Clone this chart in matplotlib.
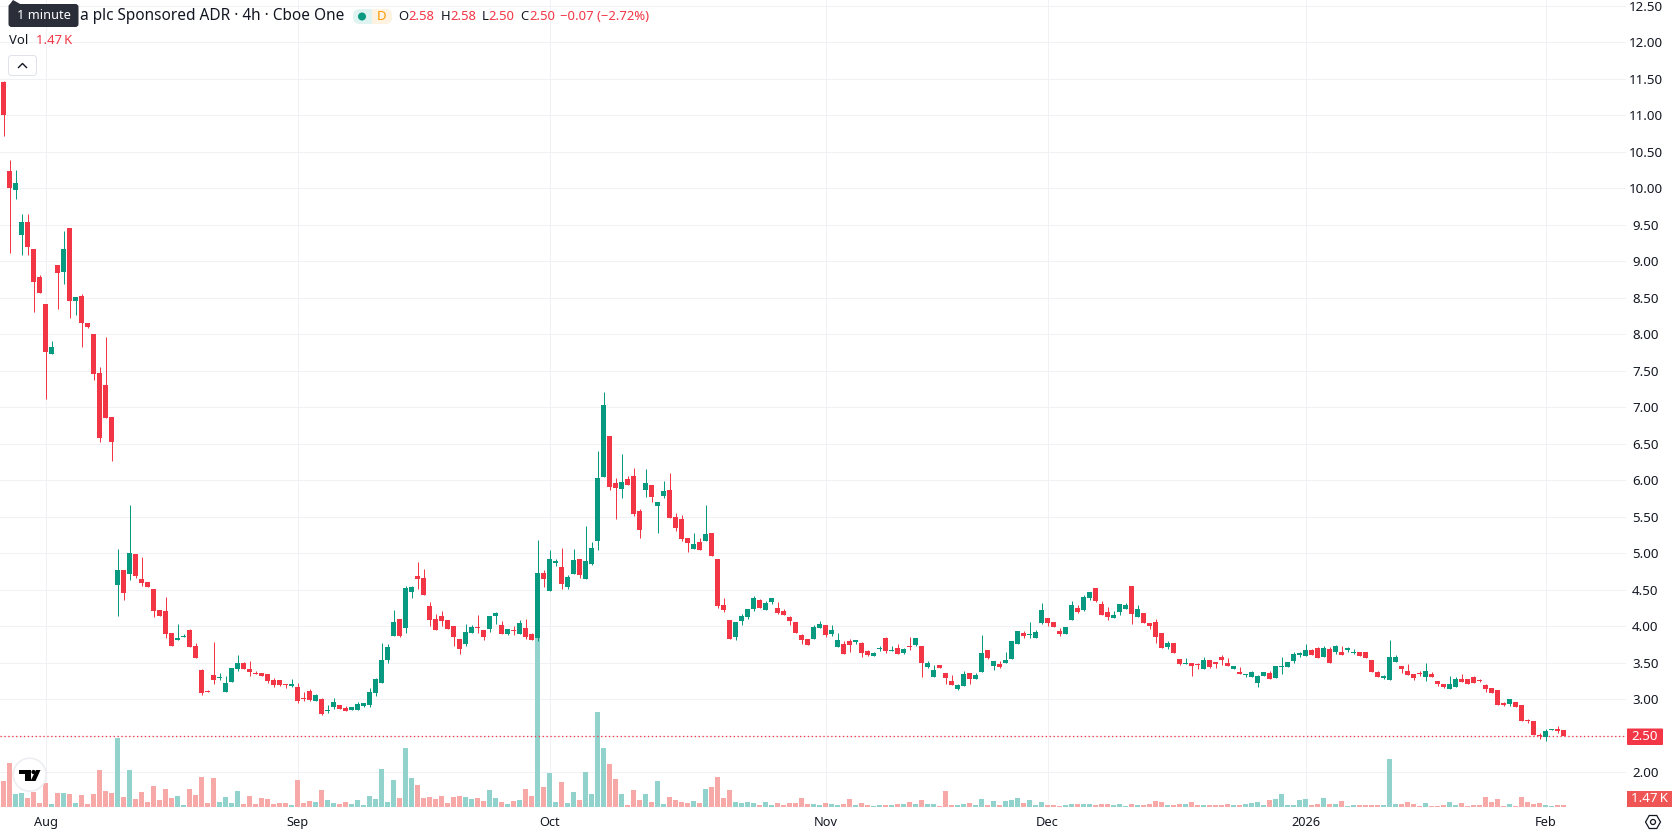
import numpy as np
import matplotlib
matplotlib.use("Agg")
import matplotlib.pyplot as plt
from matplotlib.patches import Circle, FancyBboxPatch, Polygon, Rectangle, RegularPolygon

plt.rcParams['font.family'] = ['Noto Sans', 'DejaVu Sans']

# 4h candles, oldest first
opens = [
    11.46, 10.24, 9.97, 9.36, 9.54, 9.17, 8.78, 8.41, 7.73, 8.95,
    8.86, 9.46, 8.46, 8.52, 8.15, 8.00, 7.47, 7.31, 6.87, 4.57,
    4.77, 4.72, 4.99, 4.65, 4.61, 4.51, 4.22, 4.21, 3.91, 3.81,
    3.86, 3.95, 3.73, 3.40, 3.11, 3.33, 3.29, 3.10, 3.24, 3.42,
    3.50, 3.42, 3.36, 3.36, 3.35, 3.26, 3.26, 3.21, 3.18, 3.17,
    3.01, 3.11, 2.98, 3.01, 2.84, 2.90, 2.92, 2.88, 2.85, 2.85,
    2.91, 2.92, 3.09, 3.22, 3.54, 3.87, 4.10, 3.98, 4.47, 4.69,
    4.66, 4.28, 4.10, 4.14, 4.09, 4.00, 3.83, 3.76, 3.91, 3.99,
    3.95, 3.96, 4.14, 4.02, 3.89, 3.95, 3.89, 3.98, 3.89, 3.84,
    4.73, 4.48, 4.87, 4.81, 4.54, 4.72, 4.92, 4.65, 4.85, 5.17,
    6.05, 6.61, 5.96, 5.88, 6.02, 6.06, 5.58, 5.87, 5.94, 5.65,
    5.78, 5.87, 5.50, 5.47, 5.21, 5.06, 5.15, 5.17, 5.28, 4.92,
    4.29, 4.09, 3.85, 4.07, 4.13, 4.24, 4.36, 4.22, 4.33, 4.25,
    4.21, 4.13, 4.06, 3.88, 3.83, 3.83, 3.98, 4.02, 3.90, 3.72,
    3.76, 3.80, 3.79, 3.77, 3.66, 3.59, 3.69, 3.84, 3.66, 3.70,
    3.64, 3.73, 3.75, 3.73, 3.44, 3.31, 3.47, 3.36, 3.25, 3.14,
    3.18, 3.36, 3.28, 3.38, 3.68, 3.46, 3.48, 3.50, 3.55, 3.76,
    3.91, 3.88, 3.84, 4.05, 4.11, 4.06, 3.94, 3.90, 4.09, 4.25,
    4.22, 4.39, 4.53, 4.31, 4.20, 4.11, 4.20, 4.24, 4.55, 4.13,
    4.18, 4.05, 4.06, 3.91, 3.72, 3.77, 3.55, 3.48, 3.50, 3.48,
    3.42, 3.54, 3.51, 3.58, 3.50, 3.42, 3.38, 3.33, 3.31, 3.22,
    3.32, 3.36, 3.29, 3.44, 3.44, 3.53, 3.61, 3.59, 3.68, 3.70,
    3.58, 3.69, 3.65, 3.65, 3.68, 3.64, 3.65, 3.65, 3.54, 3.37,
    3.29, 3.27, 3.51, 3.46, 3.39, 3.35, 3.36, 3.31, 3.35, 3.25,
    3.21, 3.14, 3.17, 3.28, 3.28, 3.30, 3.27, 3.19, 3.16, 3.13,
    2.95, 2.94, 2.96, 2.92, 2.72, 2.70, 2.51, 2.49, 2.58, 2.59,
    2.58,
]
highs = [
    11.47, 10.39, 10.25, 9.65, 9.65, 9.17, 8.81, 8.41, 7.91, 8.95,
    9.42, 9.46, 8.51, 8.55, 8.15, 8.00, 7.55, 7.96, 6.87, 5.06,
    4.77, 5.66, 4.99, 4.95, 4.61, 4.51, 4.22, 4.40, 3.91, 4.03,
    3.90, 3.96, 3.77, 3.42, 3.13, 3.79, 3.36, 3.32, 3.43, 3.61,
    3.51, 3.53, 3.39, 3.36, 3.35, 3.29, 3.26, 3.21, 3.28, 3.22,
    3.10, 3.14, 3.07, 3.02, 2.92, 3.02, 2.92, 2.91, 2.90, 2.96,
    2.95, 3.16, 3.29, 3.77, 3.76, 4.22, 4.10, 4.55, 4.55, 4.88,
    4.78, 4.33, 4.17, 4.21, 4.09, 4.00, 3.83, 4.03, 4.02, 4.15,
    3.95, 4.14, 4.20, 4.07, 3.96, 4.00, 4.09, 4.10, 3.91, 5.18,
    4.77, 5.04, 4.92, 5.07, 4.70, 5.06, 4.92, 5.37, 5.16, 6.40,
    7.21, 6.61, 6.03, 6.36, 6.06, 6.17, 5.61, 6.16, 5.94, 5.70,
    5.99, 6.10, 5.55, 5.52, 5.21, 5.28, 5.21, 5.66, 5.28, 4.92,
    4.39, 4.09, 4.06, 4.17, 4.24, 4.42, 4.37, 4.35, 4.39, 4.33,
    4.24, 4.14, 4.06, 3.89, 3.83, 4.02, 4.07, 4.02, 4.02, 3.91,
    3.80, 3.83, 3.81, 3.79, 3.68, 3.65, 3.73, 3.85, 3.73, 3.76,
    3.70, 3.85, 3.84, 3.73, 3.53, 3.47, 3.47, 3.36, 3.33, 3.21,
    3.39, 3.36, 3.36, 3.88, 3.68, 3.53, 3.53, 3.65, 3.80, 3.94,
    3.94, 4.06, 3.95, 4.32, 4.11, 4.06, 3.98, 3.99, 4.35, 4.29,
    4.43, 4.47, 4.53, 4.35, 4.27, 4.21, 4.31, 4.32, 4.55, 4.29,
    4.18, 4.05, 4.10, 3.91, 3.80, 3.77, 3.55, 3.57, 3.50, 3.50,
    3.58, 3.54, 3.51, 3.61, 3.57, 3.46, 3.44, 3.35, 3.39, 3.33,
    3.38, 3.39, 3.46, 3.58, 3.51, 3.65, 3.65, 3.76, 3.69, 3.72,
    3.73, 3.72, 3.75, 3.73, 3.72, 3.69, 3.65, 3.65, 3.54, 3.39,
    3.33, 3.81, 3.61, 3.46, 3.48, 3.35, 3.39, 3.50, 3.37, 3.25,
    3.21, 3.32, 3.31, 3.35, 3.28, 3.32, 3.28, 3.21, 3.16, 3.13,
    2.96, 3.00, 2.96, 2.92, 2.73, 2.70, 2.54, 2.59, 2.59, 2.63,
    2.58,
]
lows = [
    10.72, 9.12, 9.86, 9.08, 9.08, 8.31, 8.56, 7.12, 7.73, 8.35,
    8.69, 8.23, 8.27, 7.83, 8.09, 7.38, 6.52, 6.86, 6.27, 4.14,
    4.36, 4.64, 4.66, 4.55, 4.54, 4.13, 4.14, 3.84, 3.73, 3.81,
    3.86, 3.72, 3.57, 3.06, 3.10, 3.21, 3.26, 3.10, 3.24, 3.39,
    3.42, 3.32, 3.35, 3.32, 3.22, 3.17, 3.18, 3.16, 3.17, 2.95,
    2.98, 2.97, 2.98, 2.79, 2.81, 2.87, 2.87, 2.84, 2.85, 2.85,
    2.90, 2.90, 3.05, 3.22, 3.50, 3.87, 3.85, 3.91, 4.39, 4.51,
    4.43, 4.00, 3.95, 4.00, 3.96, 3.73, 3.62, 3.73, 3.91, 3.91,
    3.81, 3.92, 4.03, 3.89, 3.88, 3.88, 3.89, 3.83, 3.81, 3.80,
    4.54, 4.48, 4.83, 4.51, 4.51, 4.72, 4.66, 4.65, 4.84, 5.04,
    6.05, 5.87, 5.47, 5.76, 5.94, 5.51, 5.21, 5.77, 5.70, 5.28,
    5.76, 5.48, 5.31, 5.17, 5.02, 5.06, 5.05, 5.17, 4.96, 4.25,
    4.20, 3.83, 3.81, 4.02, 4.10, 4.21, 4.25, 4.22, 4.31, 4.17,
    4.16, 4.02, 3.91, 3.76, 3.75, 3.83, 3.98, 3.85, 3.87, 3.72,
    3.62, 3.65, 3.76, 3.58, 3.59, 3.59, 3.66, 3.64, 3.66, 3.62,
    3.62, 3.68, 3.73, 3.31, 3.43, 3.31, 3.43, 3.21, 3.20, 3.13,
    3.18, 3.21, 3.28, 3.38, 3.55, 3.40, 3.43, 3.50, 3.55, 3.76,
    3.84, 3.84, 3.84, 4.03, 4.00, 3.99, 3.87, 3.90, 4.09, 4.18,
    4.21, 4.36, 4.33, 4.16, 4.09, 4.11, 4.16, 4.24, 4.03, 4.13,
    4.05, 3.96, 3.77, 3.70, 3.69, 3.64, 3.47, 3.48, 3.32, 3.42,
    3.42, 3.43, 3.43, 3.47, 3.46, 3.42, 3.35, 3.31, 3.31, 3.17,
    3.32, 3.28, 3.29, 3.35, 3.44, 3.50, 3.58, 3.59, 3.61, 3.57,
    3.58, 3.50, 3.62, 3.61, 3.65, 3.62, 3.59, 3.57, 3.37, 3.31,
    3.28, 3.27, 3.51, 3.36, 3.33, 3.27, 3.32, 3.25, 3.31, 3.18,
    3.16, 3.14, 3.17, 3.24, 3.21, 3.22, 3.24, 3.10, 3.09, 2.92,
    2.91, 2.91, 2.89, 2.70, 2.68, 2.51, 2.46, 2.43, 2.58, 2.54,
    2.50,
]
closes = [
    11.01, 10.01, 10.07, 9.54, 9.20, 8.72, 8.56, 7.76, 7.83, 8.84,
    9.17, 8.46, 8.51, 8.15, 8.10, 7.46, 6.58, 6.86, 6.52, 4.77,
    4.46, 5.00, 4.69, 4.59, 4.54, 4.21, 4.14, 3.90, 3.73, 3.84,
    3.87, 3.72, 3.57, 3.09, 3.10, 3.26, 3.31, 3.22, 3.43, 3.50,
    3.42, 3.37, 3.35, 3.32, 3.25, 3.20, 3.20, 3.20, 3.21, 2.98,
    3.00, 2.99, 3.06, 2.80, 2.85, 2.96, 2.87, 2.84, 2.90, 2.94,
    2.95, 3.10, 3.28, 3.54, 3.72, 4.06, 3.87, 4.52, 4.54, 4.65,
    4.43, 4.09, 3.95, 4.07, 3.96, 3.85, 3.69, 3.92, 3.99, 3.98,
    3.85, 4.14, 4.18, 3.89, 3.96, 3.94, 4.05, 3.85, 3.81, 4.73,
    4.65, 4.92, 4.89, 4.58, 4.68, 4.91, 4.70, 4.89, 5.07, 6.03,
    7.03, 5.91, 5.89, 5.98, 5.94, 5.54, 5.32, 5.96, 5.77, 5.70,
    5.85, 5.48, 5.35, 5.20, 5.14, 5.13, 5.05, 5.26, 4.96, 4.28,
    4.22, 3.83, 4.06, 4.14, 4.24, 4.39, 4.25, 4.32, 4.39, 4.18,
    4.16, 4.07, 3.91, 3.81, 3.75, 3.99, 4.03, 3.88, 3.95, 3.81,
    3.62, 3.75, 3.81, 3.64, 3.61, 3.64, 3.70, 3.66, 3.68, 3.62,
    3.69, 3.72, 3.84, 3.50, 3.50, 3.40, 3.43, 3.29, 3.20, 3.20,
    3.35, 3.28, 3.33, 3.64, 3.57, 3.53, 3.44, 3.54, 3.80, 3.94,
    3.87, 3.90, 3.92, 4.22, 4.05, 3.99, 3.90, 3.99, 4.29, 4.20,
    4.40, 4.47, 4.35, 4.16, 4.13, 4.16, 4.31, 4.29, 4.17, 4.24,
    4.05, 4.00, 3.85, 3.70, 3.77, 3.64, 3.48, 3.50, 3.46, 3.47,
    3.54, 3.44, 3.48, 3.54, 3.46, 3.46, 3.35, 3.35, 3.38, 3.32,
    3.38, 3.28, 3.46, 3.46, 3.51, 3.62, 3.63, 3.68, 3.61, 3.57,
    3.70, 3.50, 3.73, 3.61, 3.70, 3.65, 3.59, 3.57, 3.37, 3.31,
    3.32, 3.58, 3.58, 3.42, 3.33, 3.29, 3.35, 3.39, 3.31, 3.21,
    3.17, 3.21, 3.28, 3.24, 3.21, 3.22, 3.25, 3.14, 3.09, 2.92,
    2.92, 3.00, 2.89, 2.70, 2.70, 2.51, 2.50, 2.57, 2.59, 2.57,
    2.50,
]
# volume in thousands of shares
volumes = [
    18.2, 30.8, 9.1, 9.8, 6.3, 10.5, 2.8, 16.8, 2.1, 9.8,
    9.8, 9.1, 2.8, 8.4, 2.1, 9.1, 25.9, 11.2, 9.8, 48.3,
    7.0, 25.9, 5.6, 10.5, 3.5, 14.7, 4.9, 12.6, 6.3, 7.7,
    1.4, 12.6, 8.4, 21.0, 2.8, 20.3, 3.5, 7.0, 2.8, 11.2,
    2.1, 7.7, 2.1, 6.3, 5.6, 2.1, 2.8, 2.8, 1.4, 18.9,
    2.8, 4.2, 3.5, 11.9, 4.9, 2.8, 2.1, 3.5, 2.1, 4.9,
    1.4, 7.7, 5.6, 26.6, 3.5, 18.9, 6.3, 41.3, 20.3, 15.4,
    6.3, 7.0, 5.6, 7.7, 2.8, 7.0, 7.7, 7.0, 5.6, 6.3,
    4.2, 11.9, 6.3, 3.5, 2.1, 4.2, 4.9, 12.6, 7.7, 126.0,
    14.0, 23.8, 3.5, 17.5, 2.8, 10.5, 4.9, 24.5, 9.1, 66.5,
    41.3, 30.1, 19.6, 9.1, 1.4, 11.9, 4.9, 9.1, 3.5, 18.2,
    2.1, 7.0, 4.9, 3.5, 2.8, 4.2, 2.8, 12.6, 14.0, 21.0,
    6.3, 11.9, 3.5, 2.8, 3.5, 2.8, 1.4, 3.5, 1.4, 2.8,
    1.4, 2.8, 2.8, 6.3, 2.1, 2.1, 1.4, 2.8, 2.1, 1.4,
    2.1, 5.6, 1.4, 2.8, 1.4, 0.7, 1.4, 1.4, 1.4, 2.1,
    2.1, 3.5, 2.1, 4.9, 2.1, 2.1, 0.7, 11.2, 1.4, 1.4,
    2.1, 2.8, 1.4, 5.6, 1.4, 4.2, 1.4, 4.2, 4.9, 6.3,
    2.8, 4.9, 1.4, 3.5, 1.4, 1.4, 0.7, 1.4, 2.1, 2.1,
    2.1, 2.1, 1.4, 2.1, 2.1, 1.4, 2.1, 0.7, 2.1, 1.4,
    1.4, 2.1, 4.2, 3.5, 1.4, 1.4, 2.1, 2.1, 3.5, 1.4,
    1.4, 1.4, 1.4, 1.4, 2.1, 1.4, 1.4, 2.1, 2.8, 3.5,
    1.4, 4.9, 5.6, 9.1, 1.4, 1.4, 4.9, 5.6, 1.4, 2.1,
    6.3, 2.1, 2.1, 4.2, 0.7, 1.4, 1.4, 1.4, 1.4, 1.4,
    1.4, 33.6, 2.1, 2.1, 3.5, 2.1, 0.7, 2.8, 0.7, 0.7,
    1.4, 3.5, 1.4, 2.8, 0.7, 1.4, 1.4, 7.0, 3.5, 5.6,
    0.7, 2.1, 0.7, 7.0, 3.5, 2.1, 2.8, 1.4, 0.7, 1.4,
    1.47,
]

month_bars = [7, 49, 91, 137, 174, 217, 257]
month_labels = ["Aug", "Sep", "Oct", "Nov", "Dec", "2026", "Feb"]
price_ticks = np.arange(2.0, 13.0, 0.5)

W, H = 1678, 835
PANE_W, PANE_H = 1626, 808
BAR_STEP = 6
PX_PER_PRICE = 73
PRICE_AT_2 = 772.3  # pixel row of the 2.00 line
K_PER_PX = 0.7

UP = "#089981"
DOWN = "#F23645"
TEXT = "#131722"
GRID = "#F0F1F4"
px = 0.72  # one pixel in points at dpi 100

fig = plt.figure(figsize=(W / 100, H / 100), dpi=100, facecolor="white")
rect = [0, (H - PANE_H) / H, PANE_W / W, PANE_H / H]

# grid and axis labels at the back, then volume, then candles
ax = fig.add_axes(rect)
x_limits = (-3.5 / BAR_STEP, (PANE_W - 3.5) / BAR_STEP)
y_limits = (2 + (PRICE_AT_2 - PANE_H) / PX_PER_PRICE, 2 + PRICE_AT_2 / PX_PER_PRICE)
ax.set_xlim(x_limits)
ax.set_ylim(y_limits)
for side in ax.spines.values():
    side.set_visible(False)
ax.set_yticks(price_ticks, [f"{p:.2f}" for p in price_ticks])
ax.yaxis.tick_right()
ax.tick_params(axis="y", length=0, pad=14, labelsize=9.6, labelcolor=TEXT)
for lab in ax.get_yticklabels():
    lab.set_ha("center")
ax.set_xticks(month_bars, month_labels)
ax.tick_params(axis="x", length=0, pad=6, labelsize=9.2, labelcolor=TEXT)
ax.get_xticklabels()[5].set_fontweight("bold")
ax.grid(True, color=GRID, linewidth=px)
ax.set_axisbelow(True)

x = np.arange(len(closes))
o, h, l, c = map(np.array, (opens, highs, lows, closes))
rising = c >= o

vol_ax = fig.add_axes(rect, sharex=ax)
vol_ax.patch.set_visible(False)
vol_ax.axis("off")
vol_ax.set_ylim(-K_PER_PX, (PANE_H - 1) * K_PER_PX)
vol_colors = ["#92D2CC" if r else "#F7A9A7" for r in rising]
vol_ax.bar(x, volumes, width=5 / BAR_STEP, color=vol_colors, linewidth=0)

candle_ax = fig.add_axes(rect, sharex=ax)
candle_ax.patch.set_visible(False)
candle_ax.axis("off")
candle_ax.set_ylim(y_limits)
colors = [UP if r else DOWN for r in rising]
candle_ax.axhline(closes[-1], color=DOWN, linewidth=px * 1.3, linestyle=(0, (1, 2)), zorder=1)
candle_ax.vlines(x, l, h, colors=colors, linewidth=px, zorder=2)
# a flat candle still shows as a one pixel line
body = np.maximum(np.abs(c - o), 1 / PX_PER_PRICE)
candle_ax.bar(x, body, bottom=np.minimum(o, c), width=5 / BAR_STEP, color=colors, linewidth=0, zorder=3)

# legend rows, tags and icons are laid out in pixels
ui = fig.add_axes([0, 0, 1, 1], zorder=5)
ui.set_xlim(0, W)
ui.set_ylim(H, 0)
ui.axis("off")

ui.text(79.5, 16, "a plc Sponsored ADR · 4h · Cboe One", color=TEXT, fontsize=11.1, va="center")

ui.add_patch(FancyBboxPatch((8.5, 4), 70, 23, boxstyle="round,pad=0,rounding_size=3", fc="#2A2E39", ec="none"))
ui.add_patch(Polygon([(8.5, 6), (13, 0), (22, 5)], fc="#2A2E39", ec="none"))
ui.text(44, 15.5, "1 minute", color="white", fontsize=9.2, ha="center", va="center")

ui.add_patch(FancyBboxPatch((353, 9), 39, 15, boxstyle="round,pad=0,rounding_size=7", fc="#DFF3F0", ec="none"))
ui.add_patch(Rectangle((372, 9), 13, 15, fc="#FFF2E0", ec="none"))
ui.add_patch(FancyBboxPatch((378, 9), 14, 15, boxstyle="round,pad=0,rounding_size=7", fc="#FFF2E0", ec="none"))
ui.add_patch(Circle((362, 16.5), 4, fc=UP, ec="none"))
ui.text(381, 16.5, "D", color="#FF9800", fontsize=9.5, ha="center", va="center", fontweight="bold")

for name, x_name, val, x_val in [("O", 398.5, "2.58", 408.5), ("H", 440.5, "2.58", 450.5),
                                 ("L", 482, "2.50", 488.5), ("C", 520.5, "2.50", 529.5)]:
    ui.text(x_name, 16.5, name, color=TEXT, fontsize=9.4, va="center")
    ui.text(x_val, 16.5, val, color=DOWN, fontsize=9.4, va="center")
ui.text(560, 16.5, "−0.07 (−2.72%)", color=DOWN, fontsize=9.4, va="center")

ui.text(9, 41, "Vol", color=TEXT, fontsize=9.4, va="center")
ui.text(36.5, 41, "1.47\u2009K", color=DOWN, fontsize=9.4, va="center")

ui.add_patch(FancyBboxPatch((8.5, 55.5), 28, 20, boxstyle="round,pad=0,rounding_size=3", fc="white", ec="#E0E3EB", lw=px))
ui.plot([18.5, 22.5, 26.5], [67.5, 63.5, 67.5], color=TEXT, lw=1.0)

# price and volume tags on the right scale
ui.add_patch(FancyBboxPatch((1627, 728.5), 36, 16.5, boxstyle="round,pad=0,rounding_size=1", fc=DOWN, ec="none"))
ui.text(1645, 736.8, "2.50", color="white", fontsize=9.6, ha="center", va="center")
ui.add_patch(Rectangle((1627, 791), 45, 16, fc="#F05555", ec="none"))
ui.text(1649.5, 799, "1.47\u2009K", color="white", fontsize=9.6, ha="center", va="center")

# settings button under the scale
ui.add_patch(RegularPolygon((1653, 822), 6, radius=7.5, orientation=np.pi / 6, fc="none", ec=TEXT, lw=0.9))
ui.add_patch(Circle((1653, 822), 2.5, fc="none", ec=TEXT, lw=0.9))

# logo badge at the lower left of the pane
ui.add_patch(Circle((29.7, 774.7), 16.5, fc="white", ec="#EDEEF1", lw=1.2))
ui.add_patch(Polygon([(19, 770), (30.5, 770), (30.5, 781), (25, 781), (25, 774), (19, 774)], fc="black", ec="none"))
ui.add_patch(Circle((33.5, 772), 2.1, fc="black", ec="none"))
ui.add_patch(Polygon([(36, 770), (40.5, 770), (35.5, 781), (30.5, 781)], fc="black", ec="none"))

fig.savefig("out.png", dpi=100)
